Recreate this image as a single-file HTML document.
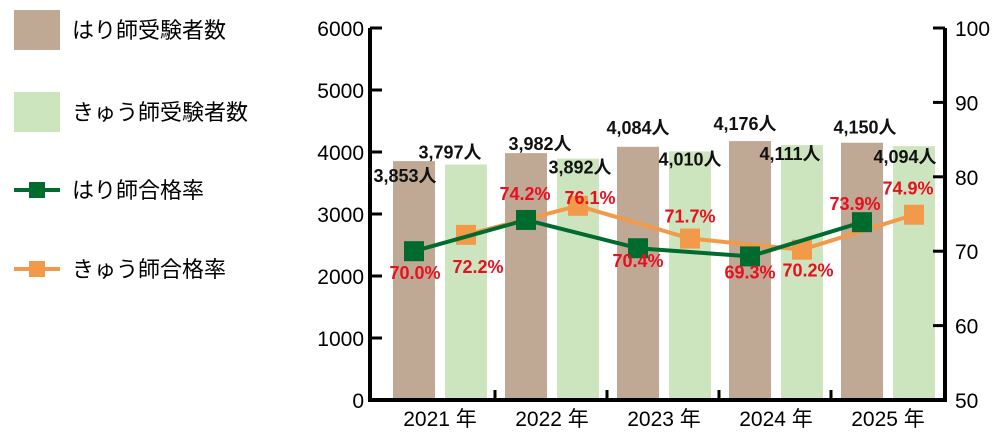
<!DOCTYPE html>
<html><head><meta charset="utf-8"><style>
body{margin:0;background:#fff;}
svg{display:block;font-family:"Liberation Sans","Noto Sans CJK JP",sans-serif;}
</style></head><body>
<svg width="1000" height="440" viewBox="0 0 1000 440" id="chart">
<g>
 <rect x="14" y="10" width="46" height="40" fill="#bfa995"/>
 <text x="72" y="38" font-size="22">はり師受験者数</text>
 <rect x="14" y="92" width="46" height="40" fill="#cde5bf"/>
 <text x="72" y="120" font-size="22">きゅう師受験者数</text>
 <line x1="14" y1="190" x2="60" y2="190" stroke="#006b2f" stroke-width="4"/>
 <rect x="29" y="182" width="16" height="16" fill="#006b2f"/>
 <text x="72" y="198" font-size="22">はり師合格率</text>
 <line x1="14" y1="269" x2="60" y2="269" stroke="#f29a4a" stroke-width="4"/>
 <rect x="29" y="261" width="16" height="16" fill="#f29a4a"/>
 <text x="72" y="277" font-size="22">きゅう師合格率</text>
</g>
<g id="plot"></g>
</svg>
<script>
const categories=["2021 年","2022 年","2023 年","2024 年","2025 年"];
const hariCount=[3853,3982,4084,4176,4150];
const kyuCount=[3797,3892,4010,4111,4094];
const hariRate=[70.0,74.2,70.4,69.3,73.9];
const kyuRate=[72.2,76.1,71.7,70.2,74.9];
const leftTicks=[0,1000,2000,3000,4000,5000,6000];
const rightTicks=[50,60,70,80,90,100];
// label offsets (layout)
const hariCntOff=[[-9,21],[14,-3],[0,-13],[-5,-11],[3,-9]];
const kyuCntOff=[[-16,-6],[2,15],[0,14],[-12,15],[-9,17]];
const hariRateOff=[[1,28],[-1,-20],[0,19],[0,22],[-7,-12]];
const kyuRateOff=[[12,38],[12,-2],[0,-16],[6,27],[-6,-20]];

const NS="http://www.w3.org/2000/svg";
const g=document.getElementById('plot');
const X0=370,X1=945,Y0=400,Y1=28,GW=112;
const yL=v=>Y0-(v/6000)*(Y0-Y1);
const yR=v=>Y0-((v-50)/50)*(Y0-Y1);
const bx=i=>X0+23+i*GW;
const hx=i=>bx(i)+21;
const kx=i=>bx(i)+52+21;
function mk(tag,attrs,txt){const e=document.createElementNS(NS,tag);for(const k in attrs)e.setAttribute(k,attrs[k]);if(txt!==undefined)e.textContent=txt;g.appendChild(e);return e;}

categories.forEach((c,i)=>{
 let b=mk('rect',{x:bx(i),y:yL(hariCount[i]),width:42,height:Y0-yL(hariCount[i]),fill:'#bfa995'});
 
 
 let k=mk('rect',{x:bx(i)+52,y:yL(kyuCount[i]),width:42,height:Y0-yL(kyuCount[i]),fill:'#cde5bf'});
 
 
});
let ax=mk('path',{d:`M${X0} ${Y1}V${Y0}H${X1}V${Y1}`,fill:'none',stroke:'#000','stroke-width':4});


leftTicks.forEach(t=>{
 let l=mk('line',{x1:X0,x2:X0+12,y1:yL(t),y2:yL(t),stroke:'#000','stroke-width':3});
 
 
 let tx=mk('text',{x:X0-6,y:yL(t)+8,'font-size':21,'text-anchor':'end'},String(t));
 
 
});
rightTicks.forEach(t=>{
 let l=mk('line',{x1:X1-12,x2:X1,y1:yR(t),y2:yR(t),stroke:'#000','stroke-width':3});
 
 
 let tx=mk('text',{x:X1+10,y:yR(t)+8,'font-size':21},String(t));
 
 
});
categories.forEach((c,i)=>{
 if(i>0){let l=mk('line',{x1:bx(i)-10,x2:bx(i)-10,y1:Y0-10,y2:Y0,stroke:'#000','stroke-width':3});
 
 }
 let t=mk('text',{x:bx(i)+47,y:426,'font-size':21,'text-anchor':'middle'},c);
 
 
});
function series(vals,xf,color,name){
 let p=mk('polyline',{points:vals.map((v,i)=>xf(i)+','+yR(v)).join(' '),fill:'none',stroke:color,'stroke-width':4});
 
 
 vals.forEach((v,i)=>{
  let r=mk('rect',{x:xf(i)-10,y:yR(v)-10,width:20,height:20,fill:color});
  
  
 });
}
series(kyuRate,kx,'#f29a4a','kyu-rate');
series(hariRate,hx,'#006b2f','hari-rate');
function labels(vals,xf,yf,off,fmt,color,name){
 vals.forEach((v,i)=>{
  let t=mk('text',{x:xf(i)+off[i][0],y:yf(v)+off[i][1],'font-size':18,'text-anchor':'middle',fill:color,'font-weight':'bold'},fmt(v));
  
  
 });
}
const cnt=v=>v.toLocaleString('en-US')+'人';
const pct=v=>v.toFixed(1)+'%';
labels(hariCount,hx,yL,hariCntOff,cnt,'#111','label-hari-count');
labels(kyuCount,kx,yL,kyuCntOff,cnt,'#111','label-kyu-count');
labels(hariRate,hx,yR,hariRateOff,pct,'#e8101e','label-hari-rate');
labels(kyuRate,kx,yR,kyuRateOff,pct,'#e8101e','label-kyu-rate');
</script>
</body></html>
